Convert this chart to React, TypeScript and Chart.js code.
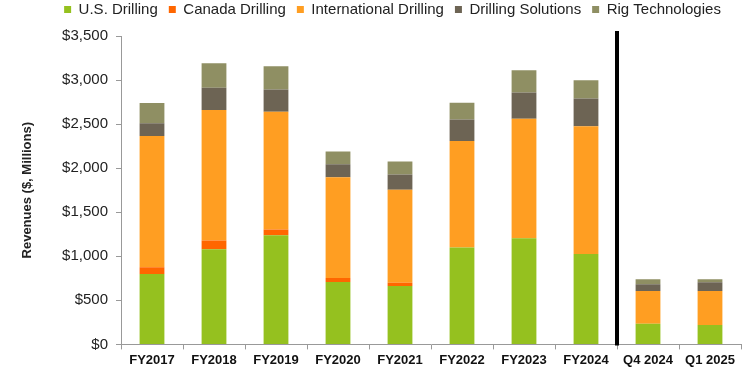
import React, { useEffect, useRef } from "react";
import { Chart, registerables } from "chart.js";

Chart.register(...registerables);

const categories = ["FY2017", "FY2018", "FY2019", "FY2020", "FY2021", "FY2022", "FY2023", "FY2024", "Q4 2024", "Q1 2025"];
const usDrilling = [800, 1080, 1240, 708, 663, 1100, 1205, 1026, 235, 220];
const canadaDrilling = [75, 98, 63, 46, 38, 0, 0, 0, 0, 0];
const internationalDrilling = [1490, 1481, 1337, 1144, 1053, 1207, 1356, 1451, 371, 386];
const drillingSolutions = [145, 254, 254, 147, 174, 246, 299, 315, 76, 99];
const rigTechnologies = [230, 277, 262, 145, 148, 189, 250, 205, 57, 34];
const yTicks = [0, 500, 1000, 1500, 2000, 2500, 3000, 3500];

const dividerPlugin = {
  id: "divider",
  afterDatasetsDraw(chart: any) {
    const x = chart.scales.x;
    const y = chart.scales.y;
    const px = (x.getPixelForValue(7) + x.getPixelForValue(8)) / 2;
    const ctx = chart.ctx;
    ctx.save();
    ctx.strokeStyle = "#000";
    ctx.lineWidth = 4;
    ctx.beginPath();
    ctx.moveTo(px, chart.chartArea.top - 5);
    ctx.lineTo(px, y.getPixelForValue(0) + 1);
    ctx.stroke();
    ctx.restore();
  },
};

const legendShift = {
  id: "legendShift",
  afterLayout(chart: any) {
    const lg = chart.legend;
    if (lg) {
      lg.top -= 9;
      lg.bottom -= 9;
      lg.left += 12;
      lg.right += 12;
      if (lg.legendHitBoxes) lg.legendHitBoxes.forEach((h: any) => { h.top -= 9; h.left += 12; });
    }
  },
};

export default function App() {
  const ref = useRef<HTMLCanvasElement>(null);
  useEffect(() => {
    const font = "'Liberation Sans', Arial, sans-serif";
    const mk = (label: string, data: number[], color: string) => ({
      label,
      data,
      backgroundColor: color,
      borderWidth: 0,
      barPercentage: 0.4,
      categoryPercentage: 1,
    });
    const chart = new Chart(ref.current!, {
      type: "bar",
      data: {
        labels: categories,
        datasets: [
          mk("U.S. Drilling", usDrilling, "#95c11f"),
          mk("Canada Drilling", canadaDrilling, "#ff6600"),
          mk("International Drilling", internationalDrilling, "#ff9e22"),
          mk("Drilling Solutions", drillingSolutions, "#6d6454"),
          mk("Rig Technologies", rigTechnologies, "#8f8f63"),
        ],
      },
      options: {
        animation: false,
        responsive: false,
        maintainAspectRatio: false,
        layout: { padding: { left: 20, right: 9, top: 0, bottom: 4 } },
        plugins: {
          legend: {
            position: "top",
            labels: {
              boxWidth: 7,
              boxHeight: 7,
              padding: 11,
              color: "#222",
              font: { family: font, size: 15 },
            },
          },
          tooltip: { enabled: false },
        },
        scales: {
          x: {
            stacked: true,
            grid: { display: true, drawOnChartArea: false, offset: true, tickLength: 5, color: "#999" },
            border: { color: "#999", width: 1 },
            ticks: { color: "#111", font: { family: font, size: 13, weight: "bold" }, padding: 3, maxRotation: 0 },
          },
          y: {
            stacked: true,
            min: 0,
            max: 3500,
            afterBuildTicks(scale: any) {
              scale.ticks = yTicks.map((v) => ({ value: v }));
            },
            afterFit(scale: any) {
              scale.width = 101;
            },
            grid: { display: true, drawOnChartArea: false, tickLength: 5, color: "#999" },
            border: { color: "#999", width: 1 },
            ticks: {
              color: "#222",
              font: { family: font, size: 15 },
              padding: 8,
              callback: (v: any) => "$" + Number(v).toLocaleString("en-US"),
            },
            title: {
              display: true,
              text: "Revenues ($, Millions)",
              color: "#222",
              font: { family: font, size: 13, weight: "bold" },
              padding: { top: 0, bottom: 6 },
            },
          },
        },
      },
      plugins: [dividerPlugin, legendShift],
    });
    return () => chart.destroy();
  }, []);
  return (
    <div style={{ position: "fixed", left: 0, top: 0, width: 750, height: 375, background: "#fff" }}>
      <canvas ref={ref} width={750} height={375} style={{ width: 750, height: 375 }} />
    </div>
  );
}
